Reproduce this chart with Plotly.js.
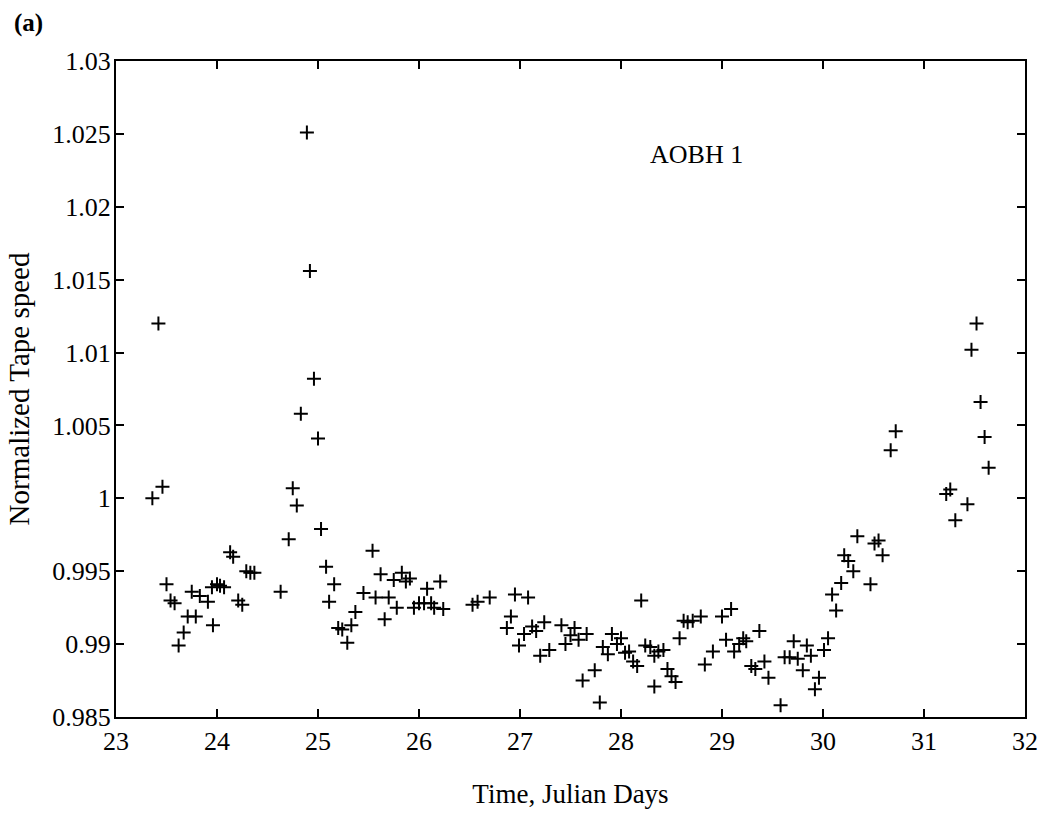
<!DOCTYPE html>
<html>
<head>
<meta charset="utf-8">
<script src="https://cdn.plot.ly/plotly-3.0.1.min.js"></script>
<style>
html,body{margin:0;padding:0;background:#fff;}
#chart{width:1047px;height:813px;}
</style>
</head>
<body>
<div id="chart"></div>
<script>
// Time in Julian days
const julianDays = [
  23.36, 23.42, 23.46, 23.50, 23.54, 23.58, 23.62, 23.67, 23.71, 23.75,
  23.79, 23.83, 23.91, 23.95, 23.96, 24.00, 24.03, 24.07, 24.13, 24.16,
  24.21, 24.25, 24.29, 24.33, 24.37, 24.63, 24.71, 24.75, 24.79, 24.83,
  24.89, 24.92, 24.96, 25.00, 25.03, 25.08, 25.11, 25.16, 25.20, 25.24,
  25.29, 25.33, 25.37, 25.45, 25.54, 25.57, 25.62, 25.66, 25.70, 25.75,
  25.78, 25.83, 25.87, 25.91, 25.95, 26.00, 26.05, 26.08, 26.12, 26.15,
  26.21, 26.24, 26.53, 26.58, 26.70, 26.87, 26.91, 26.95, 26.99, 27.04,
  27.08, 27.12, 27.16, 27.20, 27.24, 27.29, 27.41, 27.45, 27.50, 27.54,
  27.58, 27.62, 27.66, 27.74, 27.79, 27.82, 27.87, 27.91, 27.96, 28.00,
  28.04, 28.08, 28.12, 28.16, 28.20, 28.24, 28.29, 28.33, 28.33, 28.37,
  28.42, 28.46, 28.50, 28.54, 28.58, 28.62, 28.66, 28.71, 28.79, 28.83,
  28.91, 29.00, 29.04, 29.09, 29.12, 29.17, 29.21, 29.24, 29.29, 29.33,
  29.37, 29.42, 29.46, 29.58, 29.62, 29.67, 29.71, 29.75, 29.80, 29.84,
  29.88, 29.92, 29.96, 30.01, 30.05, 30.09, 30.13, 30.18, 30.21, 30.25,
  30.30, 30.34, 30.47, 30.51, 30.55, 30.59, 30.67, 30.72, 31.22, 31.26,
  31.31, 31.43, 31.47, 31.52, 31.56, 31.60, 31.64
];
// Normalized tape speed
const tapeSpeed = [
  1.0000, 1.0120, 1.0008, 0.9941, 0.9930, 0.9928, 0.9899, 0.9908, 0.9919, 0.9936,
  0.9919, 0.9933, 0.9929, 0.9939, 0.9913, 0.9941, 0.9940, 0.9939, 0.9963, 0.9960,
  0.9930, 0.9927, 0.9950, 0.9949, 0.9949, 0.9936, 0.9972, 1.0007, 0.9995, 1.0058,
  1.0251, 1.0156, 1.0082, 1.0041, 0.9979, 0.9953, 0.9929, 0.9941, 0.9911, 0.9910,
  0.9901, 0.9913, 0.9922, 0.9935, 0.9964, 0.9932, 0.9948, 0.9917, 0.9932, 0.9944,
  0.9925, 0.9949, 0.9943, 0.9945, 0.9925, 0.9928, 0.9928, 0.9938, 0.9928, 0.9925,
  0.9943, 0.9924, 0.9927, 0.9929, 0.9932, 0.9911, 0.9919, 0.9934, 0.9899, 0.9907,
  0.9932, 0.9912, 0.9909, 0.9892, 0.9915, 0.9896, 0.9913, 0.9900, 0.9906, 0.9911,
  0.9903, 0.9875, 0.9907, 0.9882, 0.9860, 0.9898, 0.9893, 0.9907, 0.9900, 0.9904,
  0.9894, 0.9895, 0.9888, 0.9885, 0.9930, 0.9899, 0.9898, 0.9871, 0.9892, 0.9895,
  0.9896, 0.9883, 0.9878, 0.9874, 0.9904, 0.9916, 0.9915, 0.9916, 0.9919, 0.9886,
  0.9895, 0.9919, 0.9903, 0.9924, 0.9895, 0.9900, 0.9904, 0.9902, 0.9885, 0.9883,
  0.9909, 0.9888, 0.9877, 0.9858, 0.9891, 0.9891, 0.9902, 0.9890, 0.9882, 0.9899,
  0.9892, 0.9869, 0.9877, 0.9896, 0.9904, 0.9934, 0.9923, 0.9942, 0.9961, 0.9957,
  0.9950, 0.9974, 0.9941, 0.9969, 0.9971, 0.9961, 1.0033, 1.0046, 1.0003, 1.0006,
  0.9985, 0.9996, 1.0102, 1.0120, 1.0066, 1.0042, 1.0021
];
const xTickVals = [23, 24, 25, 26, 27, 28, 29, 30, 31, 32];
const yTickVals = [0.985, 0.99, 0.995, 1, 1.005, 1.01, 1.015, 1.02, 1.025, 1.03];
const yTickText = ['0.985', '0.99', '0.995', '1', '1.005', '1.01', '1.015', '1.02', '1.025', '1.03'];

const FONT = 'Liberation Serif, Times New Roman, serif';

const trace = {
  x: julianDays,
  y: tapeSpeed,
  type: 'scatter',
  mode: 'markers',
  marker: {
    symbol: 'cross-thin-open',
    size: 10,
    color: '#000',
    line: {color: '#000', width: 2}
  },
  hoverinfo: 'x+y'
};

const axisCommon = {
  showline: true,
  linecolor: '#000',
  linewidth: 2,
  mirror: 'ticks',
  ticks: 'inside',
  ticklen: 8,
  tickwidth: 2,
  tickcolor: '#000',
  showgrid: false,
  zeroline: false,
  tickfont: {family: FONT, size: 26, color: '#000'}
};

const layout = {
  width: 1047,
  height: 813,
  paper_bgcolor: '#fff',
  plot_bgcolor: '#fff',
  showlegend: false,
  margin: {l: 116, r: 22, t: 61, b: 96},
  xaxis: Object.assign({}, axisCommon, {
    range: [23, 32],
    tickmode: 'array',
    tickvals: xTickVals,
    ticktext: xTickVals.map(String),
    ticklabelstandoff: 0,
    title: {text: 'Time, Julian Days', font: {family: FONT, size: 27, color: '#000'}, standoff: 29}
  }),
  yaxis: Object.assign({}, axisCommon, {
    range: [0.985, 1.03],
    tickmode: 'array',
    tickvals: yTickVals,
    ticktext: yTickText,
    ticklabelstandoff: -2,
    title: {text: 'Normalized Tape speed', font: {family: FONT, size: 29, color: '#000'}, standoff: 14}
  }),
  annotations: [
    {
      text: '<b>(a)</b>', xref: 'paper', yref: 'paper',
      x: -0.114, y: 1.058, xanchor: 'left', yanchor: 'middle',
      showarrow: false, font: {family: FONT, size: 25, color: '#000'}
    },
    {
      text: 'AOBH 1', xref: 'x', yref: 'y',
      x: 28.75, y: 1.0236, xanchor: 'center', yanchor: 'middle',
      showarrow: false, font: {family: FONT, size: 26, color: '#000'}
    }
  ]
};

Plotly.newPlot('chart', [trace], layout, {displayModeBar: false, staticPlot: true});
</script>
</body>
</html>
